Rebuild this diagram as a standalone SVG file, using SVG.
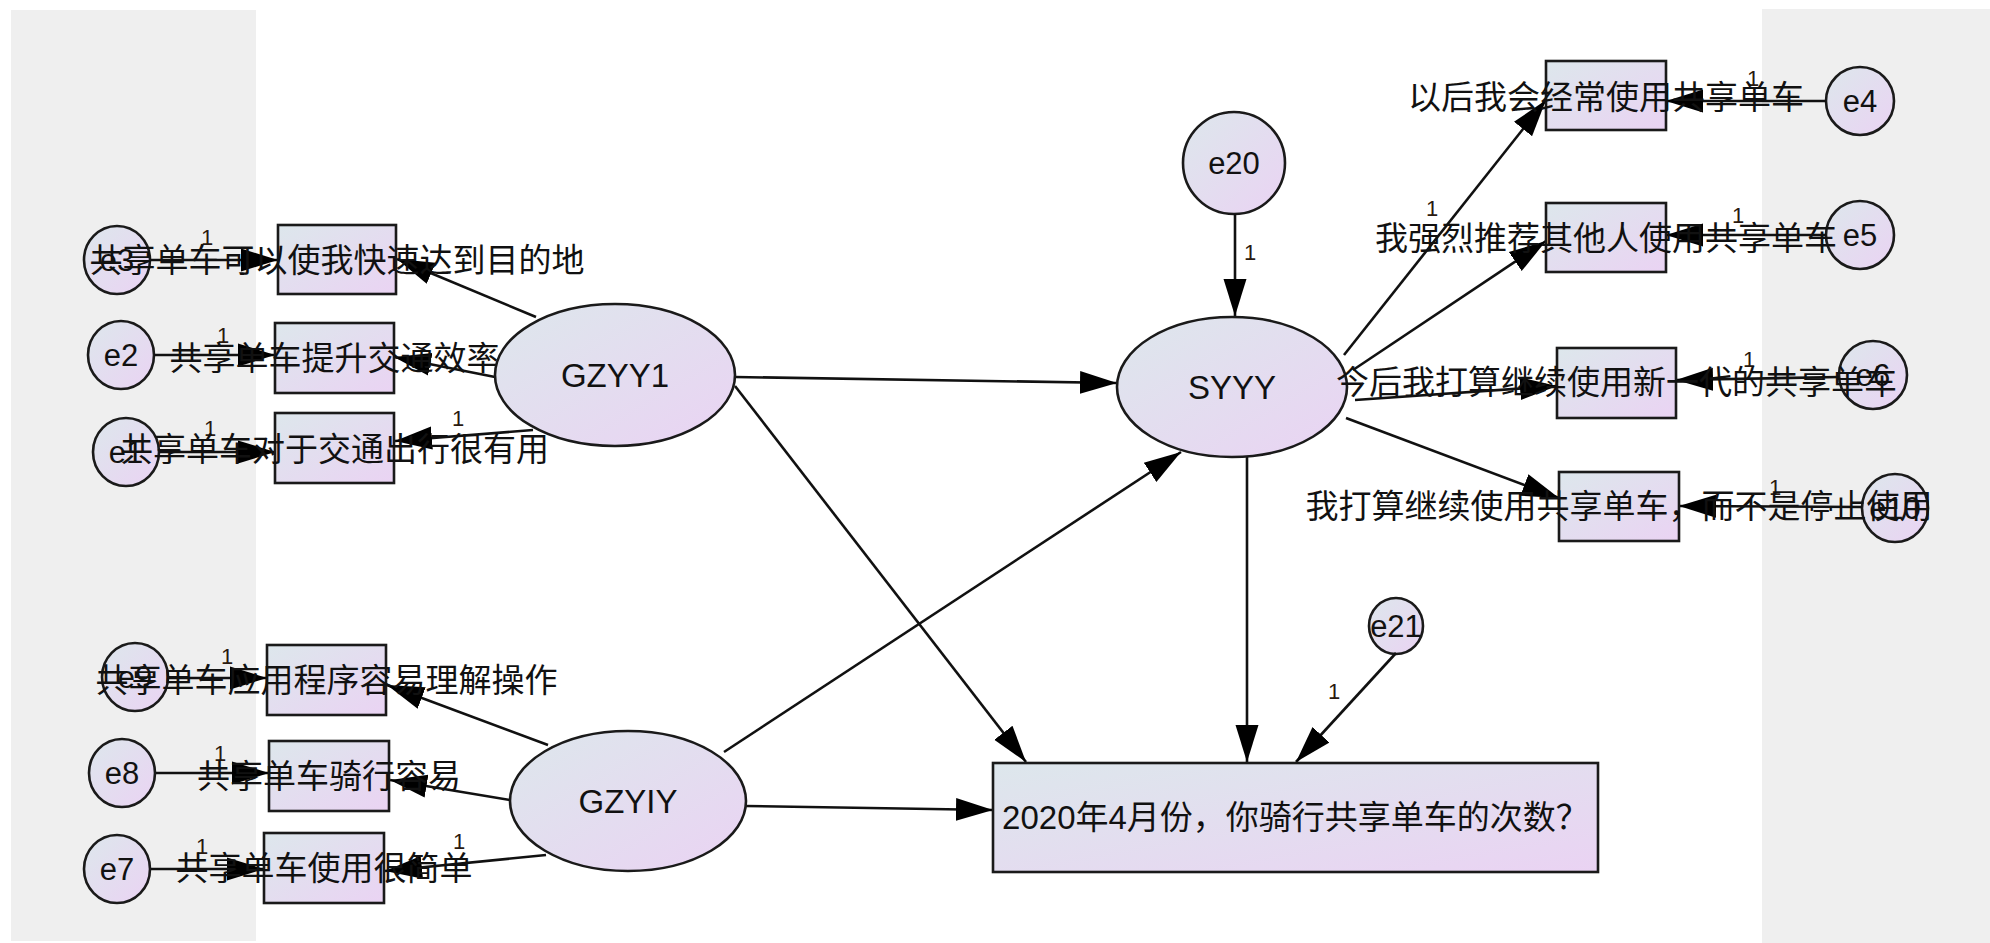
<svg xmlns="http://www.w3.org/2000/svg" width="1990" height="943" viewBox="0 0 1990 943">
<defs>
<linearGradient id="fill" x1="0" y1="0" x2="1" y2="1">
<stop offset="0" stop-color="#dde7ec"/>
<stop offset="1" stop-color="#ead3f3"/>
</linearGradient>
<marker id="arr" markerUnits="userSpaceOnUse" markerWidth="40" markerHeight="26" refX="37" refY="13" orient="auto">
<path d="M0,1.5 L37,13 L0,24.5 Z" fill="#000"/>
</marker>
<style>
.n{fill:url(#fill);stroke:#1a1a1a;stroke-width:2.6}
.t{font-family:"Liberation Sans","Noto Sans CJK SC",sans-serif;font-size:33px;fill:#111;text-anchor:middle}
.e{font-family:"Liberation Sans",sans-serif;font-size:31px;fill:#111;text-anchor:middle}
.o{font-family:"Liberation Sans",sans-serif;font-size:22px;fill:#2a1a10;text-anchor:middle}
.c{stroke:#111;stroke-width:2.6;fill:none;marker-end:url(#arr)}
</style>
</defs>
<rect x="0" y="0" width="1990" height="943" fill="#fff"/>
<rect x="11" y="10" width="245" height="931" fill="#efefef"/>
<rect x="1762" y="9" width="228" height="934" fill="#efefef"/>

<g id="e3"><ellipse class="n" cx="117" cy="260" rx="33" ry="34"/><text class="e" x="117" y="271">e3</text></g>
<g id="e2"><ellipse class="n" cx="121" cy="355" rx="33" ry="34"/><text class="e" x="121" y="366">e2</text></g>
<g id="e1"><ellipse class="n" cx="126" cy="452" rx="33" ry="34"/><text class="e" x="126" y="463">e1</text></g>
<g id="e9"><ellipse class="n" cx="135" cy="677" rx="33" ry="34"/><text class="e" x="135" y="688">e9</text></g>
<g id="e8"><ellipse class="n" cx="122" cy="773" rx="33" ry="34"/><text class="e" x="122" y="784">e8</text></g>
<g id="e7"><ellipse class="n" cx="117" cy="869" rx="33" ry="34"/><text class="e" x="117" y="880">e7</text></g>
<g id="e4"><ellipse class="n" cx="1860" cy="101" rx="34" ry="34"/><text class="e" x="1860" y="112">e4</text></g>
<g id="e5"><ellipse class="n" cx="1860" cy="235" rx="34" ry="34"/><text class="e" x="1860" y="246">e5</text></g>
<g id="e6"><ellipse class="n" cx="1873" cy="375" rx="34" ry="34"/><text class="e" x="1873" y="386">e6</text></g>
<g id="e10"><ellipse class="n" cx="1895" cy="508" rx="33" ry="34"/><text class="e" x="1895" y="519">e10</text></g>
<g id="e20"><ellipse class="n" cx="1234" cy="163" rx="51" ry="51"/><text class="e" x="1234" y="174">e20</text></g>
<g id="e21"><ellipse class="n" cx="1396" cy="626" rx="27" ry="28"/><text class="e" x="1396" y="637">e21</text></g>

<g id="connectors">
<line class="c" x1="150" y1="260" x2="278" y2="260"/>
<line class="c" x1="154" y1="355" x2="275" y2="355"/>
<line class="c" x1="159" y1="452" x2="275" y2="452"/>
<line class="c" x1="536" y1="317" x2="397" y2="259"/>
<line class="c" x1="495" y1="377" x2="394" y2="357"/>
<line class="c" x1="533" y1="430" x2="395" y2="441"/>
<line class="c" x1="167" y1="678" x2="267" y2="678"/>
<line class="c" x1="156" y1="773" x2="269" y2="773"/>
<line class="c" x1="151" y1="869" x2="264" y2="869"/>
<line class="c" x1="548" y1="745" x2="387" y2="685"/>
<line class="c" x1="510" y1="800" x2="390" y2="780"/>
<line class="c" x1="546" y1="855" x2="385" y2="871"/>
<line class="c" x1="735" y1="377" x2="1117" y2="383"/>
<line class="c" x1="735" y1="386" x2="1026" y2="762"/>
<line class="c" x1="724" y1="752" x2="1181" y2="452"/>
<line class="c" x1="746" y1="806" x2="993" y2="810"/>
<line class="c" x1="1235" y1="214" x2="1235" y2="316"/>
<line class="c" x1="1247" y1="457" x2="1247" y2="762"/>
<line class="c" x1="1396" y1="653" x2="1296" y2="762"/>
<line class="c" x1="1344" y1="355" x2="1546" y2="100"/>
<line class="c" x1="1353" y1="370" x2="1546" y2="241"/>
<line class="c" x1="1355" y1="400" x2="1557" y2="386"/>
<line class="c" x1="1346" y1="418" x2="1559" y2="498"/>
<line class="c" x1="1826" y1="101" x2="1666" y2="101"/>
<line class="c" x1="1826" y1="235" x2="1666" y2="235"/>
<line class="c" x1="1839" y1="377" x2="1676" y2="380"/>
<line class="c" x1="1862" y1="507" x2="1679" y2="506"/>
<text class="o" x="207" y="245">1</text>
<text class="o" x="223" y="343">1</text>
<text class="o" x="210" y="436">1</text>
<text class="o" x="458" y="426">1</text>
<text class="o" x="227" y="664">1</text>
<text class="o" x="220" y="761">1</text>
<text class="o" x="202" y="854">1</text>
<text class="o" x="459" y="849">1</text>
<text class="o" x="1250" y="260">1</text>
<text class="o" x="1334" y="699">1</text>
<text class="o" x="1432" y="216">1</text>
<text class="o" x="1753" y="86">1</text>
<text class="o" x="1738" y="223">1</text>
<text class="o" x="1749" y="367">1</text>
<text class="o" x="1775" y="495">1</text>
</g>

<g id="v1"><rect class="n" x="278" y="225" width="118" height="69"/><text class="t" x="337" y="272">共享单车可以使我快速达到目的地</text></g>
<g id="v2"><rect class="n" x="275" y="323" width="119" height="70"/><text class="t" x="334.5" y="370">共享单车提升交通效率</text></g>
<g id="v3"><rect class="n" x="275" y="413" width="119" height="70"/><text class="t" x="334.5" y="461">共享单车对于交通出行很有用</text></g>
<g id="GZYY1"><ellipse class="n" cx="615" cy="375" rx="120" ry="71"/><text class="t" x="615" y="387">GZYY1</text></g>

<g id="v9"><rect class="n" x="267" y="645" width="119" height="70"/><text class="t" x="326.5" y="692">共享单车应用程序容易理解操作</text></g>
<g id="v8"><rect class="n" x="269" y="741" width="120" height="70"/><text class="t" x="329" y="788">共享单车骑行容易</text></g>
<g id="v7"><rect class="n" x="264" y="833" width="120" height="70"/><text class="t" x="324" y="880">共享单车使用很简单</text></g>
<g id="GZYIY"><ellipse class="n" cx="628" cy="801" rx="118" ry="70"/><text class="t" x="628" y="813">GZYIY</text></g>

<g id="SYYY"><ellipse class="n" cx="1232" cy="387" rx="115" ry="70"/><text class="t" x="1232" y="399">SYYY</text></g>
<g id="outcome"><rect class="n" x="993" y="763" width="605" height="109"/><text class="t" x="1295.5" y="829">2020年4月份，你骑行共享单车的次数？</text></g>

<g id="v4"><rect class="n" x="1546" y="61" width="120" height="69"/><text class="t" x="1606" y="109">以后我会经常使用共享单车</text></g>
<g id="v5"><rect class="n" x="1546" y="203" width="120" height="69"/><text class="t" x="1606" y="250">我强烈推荐其他人使用共享单车</text></g>
<g id="v6"><rect class="n" x="1557" y="348" width="119" height="70"/><text class="t" x="1616.5" y="394">今后我打算继续使用新一代的共享单车</text></g>
<g id="v10"><rect class="n" x="1559" y="472" width="120" height="69"/><text class="t" x="1619" y="518">我打算继续使用共享单车，而不是停止使用</text></g>
</svg>
